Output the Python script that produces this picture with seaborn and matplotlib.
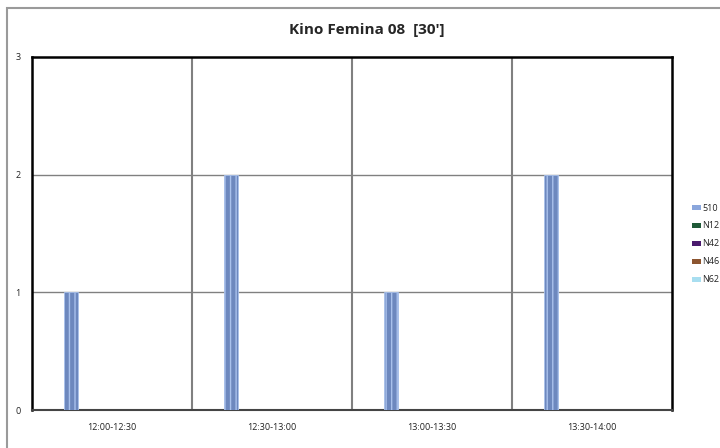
import pandas as pd
import seaborn as sns
import matplotlib.pyplot as plt
from matplotlib.patches import Rectangle

# data
CATEGORIES = ["12:00-12:30", "12:30-13:00", "13:00-13:30", "13:30-14:00"]
SERIES = ["510", "N12", "N42", "N46", "N62"]
VALUES = {
    "510": [1, 2, 1, 2],
    "N12": [0, 0, 0, 0],
    "N42": [0, 0, 0, 0],
    "N46": [0, 0, 0, 0],
    "N62": [0, 0, 0, 0],
}
COLORS = ["#5f84cc", "#1f5a38", "#4a1a6e", "#8c5530", "#8fd3ea"]
LEGEND_COLORS = ["#8aa6dc", "#1f5a38", "#4a1a6e", "#8c5530", "#a8def0"]
TITLE = "Kino Femina 08  [30']"

rows = []
for s in SERIES:
    for cat, v in zip(CATEGORIES, VALUES[s]):
        rows.append({"Interval": cat, "Series": s, "Count": v})
df = pd.DataFrame(rows)

sns.set_style("white")
plt.rcParams["font.family"] = ["Open Sans", "DejaVu Sans"]

W, H = 720, 448
fig = plt.figure(figsize=(W / 100, H / 100), dpi=100)
ax = fig.add_axes([32 / W, 1 - 410 / H, 640 / W, 353 / H])

# outer chart frame (clipped at right/bottom like the original)
fig.patches.append(Rectangle((7 / W, -0.1), 1.2, 1.1 - 8 / H,
                             transform=fig.transFigure, fill=False,
                             edgecolor="#9a9a9a", linewidth=1.5, zorder=0))

sns.barplot(data=df, x="Interval", y="Count", hue="Series", order=CATEGORIES,
            hue_order=SERIES, palette=COLORS, width=0.64, gap=0.3,
            legend=False, ax=ax, zorder=3)
for bar in ax.patches:
    bar.set_hatch("|||")
    bar.set_edgecolor("#a9c1ec")
    bar.set_linewidth(0.6)

ax.set_xlim(-0.5, 3.5)
ax.set_ylim(0, 3)
ax.set_yticks([0, 1, 2, 3])
ax.set_xlabel("")
ax.set_ylabel("")
ax.tick_params(axis="both", length=0, labelsize=6.5, colors="#222222")
ax.tick_params(axis="x", pad=9)
ax.tick_params(axis="y", pad=8)

# grid
for y in [1, 2]:
    ax.axhline(y, color="#808080", linewidth=1, zorder=1)
for x in [0.5, 1.5, 2.5]:
    ax.axvline(x, color="#808080", linewidth=1.5, zorder=1)

for side in ["left", "top", "right"]:
    ax.spines[side].set_visible(True)
    ax.spines[side].set_color("black")
    ax.spines[side].set_linewidth(1.8)
ax.spines["bottom"].set_color("#444444")
ax.spines["bottom"].set_linewidth(1.5)

fig.text(367 / W, 1 - 30 / H, TITLE, ha="center", va="center",
         fontsize=11, fontweight="bold")

# legend, placed at the right edge of the chart
for i, (name, col) in enumerate(zip(SERIES, LEGEND_COLORS)):
    yc = 208 + i * 17.8
    fig.patches.append(Rectangle((692 / W, 1 - (yc + 2.5) / H), 9 / W, 5 / H,
                                 transform=fig.transFigure, facecolor=col,
                                 edgecolor="none"))
    fig.text(702 / W, 1 - yc / H, name, ha="left", va="center", fontsize=6.5,
             color="#222222")

fig.savefig("out.png", dpi=100)
